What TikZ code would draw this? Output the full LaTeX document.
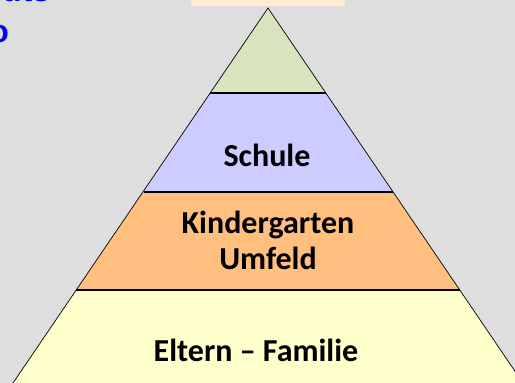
\documentclass[tikz,border=0pt]{standalone}
\usepackage{fontspec}
\setmainfont{Carlito}
\newfontfamily\headfont{Liberation Sans}
\usepackage{tikz}
\usetikzlibrary{calc}
\definecolor{bggray}{RGB}{222,222,222}
\definecolor{lvlgreen}{RGB}{215,228,189}
\definecolor{lvlblue}{RGB}{204,204,255}
\definecolor{lvlorange}{RGB}{255,191,127}
\definecolor{lvlyellow}{RGB}{255,255,204}
\definecolor{titlecream}{RGB}{253,235,210}
\definecolor{headblue}{RGB}{0,0,255}
\tikzset{
  layer/.style={draw=black, line width=0.7pt, line join=miter},
  sepline/.style={black, line width=1.3pt},
  lvltext/.style={font=\fontsize{32}{36}\selectfont\bfseries, align=center, text=black, inner sep=0pt},
  headtext/.style={font=\headfont\bfseries\fontsize{32}{38}\selectfont, text=headblue, inner sep=0pt}
}

\begin{document}
\begin{tikzpicture}[x=1pt, y=-1pt]
  \useasboundingbox (0,0) rectangle (515,383);
  \clip (0,0) rectangle (515,383);
  \fill[bggray] (0,0) rectangle (515,383);

  % clipped heading remains (top left) and title box
  \node[headtext, anchor=base west] (headA) at (2,1) {uts};
  \node[headtext, anchor=base east] (headB) at (9,42) {o};
  \fill[titlecream] (191,-1) rectangle (345,6);

  % Pyramid corner points
  \coordinate (apex) at (268,8);
  \coordinate (l1) at (210.2,93);  \coordinate (r1) at (325.8,93);
  \coordinate (l2) at (143.5,192); \coordinate (r2) at (392.5,192);
  \coordinate (l3) at (76.2,290);  \coordinate (r3) at (459.8,290);
  \coordinate (l4) at (13,383);    \coordinate (r4) at (523,383);

  % Layers, top to bottom
  \fill[lvlgreen] (apex) -- (r1) -- (l1) -- cycle;
  \fill[lvlblue] (l1) -- (r1) -- (r2) -- (l2) -- cycle;
  \fill[lvlorange] (l2) -- (r2) -- (r3) -- (l3) -- cycle;
  \fill[lvlyellow] (l3) -- (r3) -- (r4) -- (l4) -- cycle;

  \draw[layer] (l4) -- (apex) -- (r4);
  \draw[sepline] (l1) -- (r1);
  \draw[sepline] (l2) -- (r2);
  \draw[sepline] (l3) -- (r3);

  % Level labels
  \node[lvltext] (schule) at (267,155) {Schule};
  \node[lvltext] (kiga) at (268,240) {Kindergarten\\Umfeld};
  \node[lvltext] (eltern) at (256,350) {Eltern -- Familie};
\end{tikzpicture}
\end{document}
